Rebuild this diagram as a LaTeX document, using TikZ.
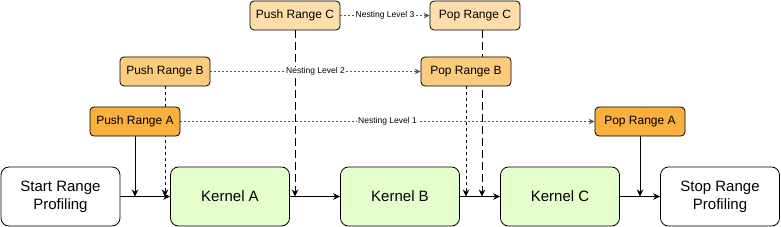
\documentclass[tikz,border=0pt]{standalone}
\usepackage{fontspec}
\setmainfont{Liberation Sans}
\usetikzlibrary{arrows.meta,backgrounds}
\definecolor{KernelGreen}{HTML}{E4FFCC}
\definecolor{RangeA}{HTML}{F9B03F}
\definecolor{RangeB}{HTML}{FDCB7E}
\definecolor{RangeC}{HTML}{FEDDAA}
\definecolor{Muted}{HTML}{555555}

\begin{document}
\begin{tikzpicture}[x=1pt,y=-1pt,
    stage/.style={draw,line width=0.8pt,rounded corners=8pt,minimum width=119pt,minimum height=59pt,align=center,font=\fontsize{15}{18}\selectfont},
    kernel/.style={stage,fill=KernelGreen},
    marker/.style={draw,line width=0.8pt,rounded corners=4pt,minimum width=90pt,minimum height=29pt,inner sep=1pt,font=\fontsize{12}{14}\selectfont},
    a/.style={-{Stealth[length=7pt,width=6.5pt,inset=2.2pt]},line width=0.8pt},
    nest/.style={-{Stealth[length=6pt,width=5.5pt,inset=2pt]},draw=Muted,dash pattern=on 2pt off 2pt,line width=0.6pt},
    lvl/.style={fill=white,inner sep=1pt,font=\fontsize{8.5}{10}\selectfont}]
    \useasboundingbox (0,0) rectangle (781,227);
    % main flow
    \node[stage] (start) at (60.5,196.5) {Start Range\\Profiling};
    \node[kernel] (ka) at (230,196.5) {Kernel A};
    \node[kernel] (kb) at (400,196.5) {Kernel B};
    \node[kernel] (kc) at (560,196.5) {Kernel C};
    \node[stage] (stop) at (720,196.5) {Stop Range\\Profiling};
    \draw[a] (start)--(ka); \draw[a] (ka)--(kb); \draw[a] (kb)--(kc); \draw[a] (kc)--(stop);
    % push / pop markers
    \node[marker,fill=RangeA] (pushA) at (135,121.5) {Push Range A};
    \node[marker,fill=RangeB] (pushB) at (165,71.5) {Push Range B};
    \node[marker,fill=RangeC] (pushC) at (295,15.5) {Push Range C};
    \node[marker,fill=RangeC] (popC) at (475,15.5) {Pop Range C};
    \node[marker,fill=RangeB] (popB) at (466,71.5) {Pop Range B};
    \node[marker,fill=RangeA] (popA) at (640,121.5) {Pop Range A};
    \draw[a] (pushA.south)--(pushA.south |- start.east);
    \draw[a,dash pattern=on 8pt off 4pt] (pushC.south)--(pushC.south |- ka.east);
    \draw[a,dash pattern=on 3pt off 3pt] (popB.south)--(popB.south |- kb.east);
    \begin{scope}[on background layer]
      \draw[a,dash pattern=on 3pt off 3pt] (pushB.south)--(pushB.south |- start.east);
      \draw[a,dash pattern=on 8pt off 4pt] ([xshift=7pt]popC.south)--([xshift=7pt]popC.south |- kb.east);
    \end{scope}
    \draw[a] (popA.south)--(popA.south |- kc.east);
    % nesting levels
    \draw[nest] (pushA)--node[lvl]{Nesting Level 1}(popA);
    \draw[nest] (pushB)--node[lvl]{Nesting Level 2}(popB);
    \draw[nest] (pushC)--node[lvl]{Nesting Level 3}(popC);
\end{tikzpicture}
\end{document}
